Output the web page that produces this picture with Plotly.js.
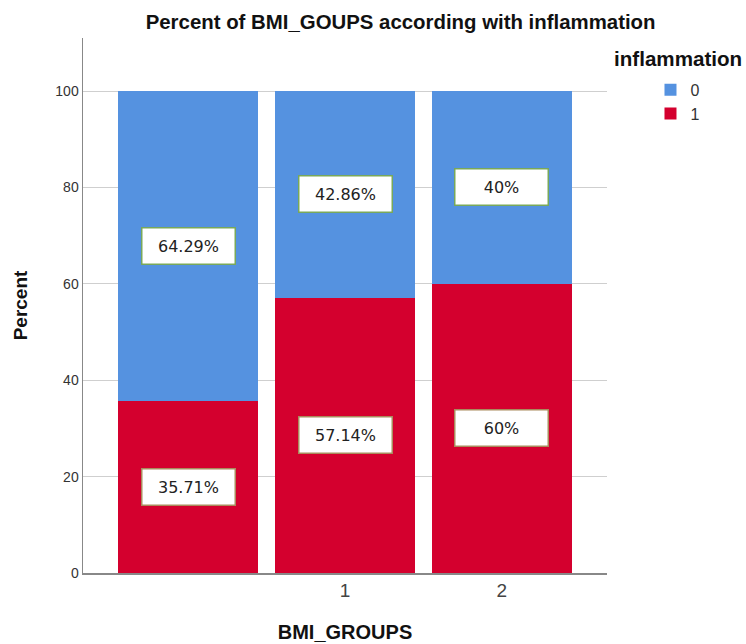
<!DOCTYPE html>
<html>
<head>
<meta charset="utf-8">
<script src="https://cdn.plot.ly/plotly-3.0.1.min.js"></script>
<style>html,body{margin:0;padding:0;background:#fff;}#chart{width:746px;height:644px;}</style>
</head>
<body>
<div id="chart"></div>
<script>
// Data
const categories = [0, 1, 2];
const tickLabels = ["", "1", "2"];
const series0 = [64.29, 42.86, 40];     // inflammation = 0 (blue)
const series1 = [35.71, 57.14, 60];     // inflammation = 1 (red)
const labels0 = ["64.29%", "42.86%", "40%"];
const labels1 = ["35.71%", "57.14%", "60%"];

const BLUE = '#5592e0';
const RED = '#d4002e';
const FONT = 'Liberation Sans, Arial, sans-serif';

const traces = [
  {type: 'bar', name: '1', x: categories, y: series1, marker: {color: RED, line: {width: 0}}, hoverinfo: 'skip'},
  {type: 'bar', name: '0', x: categories, y: series0, marker: {color: BLUE, line: {width: 0}}, hoverinfo: 'skip'}
];

const annotations = [];
categories.forEach((c, i) => {
  annotations.push({
    x: c, y: series1[i] / 2, xref: 'x', yref: 'y', text: labels1[i], showarrow: false,
    bgcolor: '#ffffff', bordercolor: '#a98a5c', borderwidth: 1.5, borderpad: 2,
    width: 88, height: 31, font: {family: 'DejaVu Sans, sans-serif', size: 16, color: '#222'}
  });
  annotations.push({
    x: c, y: series1[i] + series0[i] / 2, xref: 'x', yref: 'y', text: labels0[i], showarrow: false,
    bgcolor: '#ffffff', bordercolor: '#79a85a', borderwidth: 1.5, borderpad: 2,
    width: 88, height: 31, font: {family: 'DejaVu Sans, sans-serif', size: 16, color: '#222'}
  });
});
annotations.push({
  xref: 'paper', yref: 'paper', x: 1.0095, y: 0.961, xanchor: 'left', yanchor: 'middle',
  text: '<b>inflammation</b>', showarrow: false,
  font: {family: FONT, size: 20.6, color: '#111'}
});

const layout = {
  width: 746, height: 644,
  margin: {l: 83, r: 139, t: 38, b: 71},
  paper_bgcolor: '#fff', plot_bgcolor: '#fff',
  barmode: 'stack', bargap: 0.11,
  title: {text: '<b>Percent of BMI_GOUPS according with inflammation</b>', x: 0.537, xanchor: 'center', y: 0.966, yanchor: 'middle',
          font: {family: FONT, size: 20.4, color: '#111'}},
  xaxis: {
    range: [-0.67, 2.67], tickmode: 'array', tickvals: categories, ticktext: tickLabels,
    showgrid: false, zeroline: false, showline: true, linecolor: '#888', linewidth: 1.5,
    ticks: '', tickfont: {family: FONT, size: 19, color: '#444'},
    title: {text: '<b>BMI_GROUPS</b>', standoff: 24, font: {family: FONT, size: 20, color: '#111'}}
  },
  yaxis: {
    range: [0, 111], tickvals: [0, 20, 40, 60, 80, 100],
    showgrid: true, gridcolor: '#cfcfcf', gridwidth: 1, zeroline: false,
    showline: true, linecolor: '#888', linewidth: 1.5, ticks: '', ticklen: 0,
    tickfont: {family: FONT, size: 14, color: '#333'},
    title: {text: '<b>Percent</b>', standoff: 22, font: {family: FONT, size: 19, color: '#111'}}
  },
  showlegend: true,
  legend: {x: 1.083, y: 0.935, xanchor: 'left', yanchor: 'top', traceorder: 'reversed',
           font: {family: FONT, size: 16, color: '#333'},
           itemwidth: 30, tracegroupgap: 0, bgcolor: 'rgba(0,0,0,0)'},
  annotations: annotations
};

Plotly.newPlot('chart', traces, layout, {displayModeBar: false, staticPlot: true});
</script>
</body>
</html>
